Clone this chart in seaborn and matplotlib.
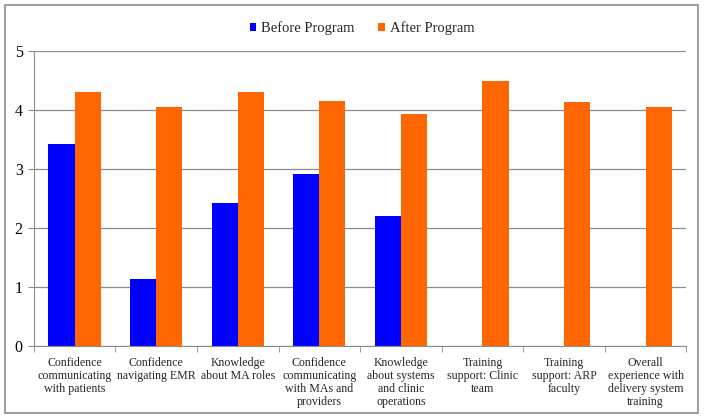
import numpy as np
import pandas as pd
import seaborn as sns
import matplotlib.pyplot as plt
from matplotlib.patches import Rectangle

# data
categories = [
    "Confidence\ncommunicating\nwith patients",
    "Confidence\nnavigating EMR",
    "Knowledge\nabout MA roles",
    "Confidence\ncommunicating\nwith MAs and\nproviders",
    "Knowledge\nabout systems\nand clinic\noperations",
    "Training\nsupport: Clinic\nteam",
    "Training\nsupport: ARP\nfaculty",
    "Overall\nexperience with\ndelivery system\ntraining",
]
before = [3.43, 1.13, 2.43, 2.92, 2.20, np.nan, np.nan, np.nan]
after = [4.30, 4.05, 4.30, 4.16, 3.93, 4.50, 4.13, 4.05]
series = ["Before Program", "After Program"]
yticks = [0, 1, 2, 3, 4, 5]

df = pd.DataFrame({"category": categories, series[0]: before, series[1]: after})
df_long = df.melt(id_vars="category", var_name="Series", value_name="Value")

sns.set_style("white")
plt.rcParams["font.family"] = ["Liberation Serif", "DejaVu Serif"]

fig, ax = plt.subplots(figsize=(7.04, 4.18), dpi=100)
fig.subplots_adjust(left=0.048, right=0.975, top=0.878, bottom=0.172)

palette = {"Before Program": "#0000ff", "After Program": "#ff6600"}
sns.barplot(data=df_long, x="category", y="Value", hue="Series",
            palette=palette, width=0.64, gap=0, saturation=1,
            ax=ax, linewidth=0)

ax.set_ylim(0, 5)
ax.set_xlim(-0.5, len(categories) - 0.5)
ax.set_yticks(yticks)
ax.yaxis.grid(True, color="#8c8c8c", linewidth=0.9)
ax.set_axisbelow(True)
for s in ["top", "right"]:
    ax.spines[s].set_visible(False)
ax.spines["left"].set_color("#8c8c8c")
ax.spines["bottom"].set_color("#8c8c8c")

ax.set_xlabel("")
ax.set_ylabel("")
ax.tick_params(axis="y", labelsize=11.5, colors="#000000", left=True, length=4,
               color="#8c8c8c", pad=4)
ax.tick_params(axis="x", labelsize=8.6, bottom=False, pad=4)
ax.set_xticks(np.arange(-0.5, len(categories)), minor=True)
ax.tick_params(axis="x", which="minor", bottom=True, length=4, color="#8c8c8c")
for lbl in ax.get_xticklabels():
    lbl.set_linespacing(1.12)

leg = ax.legend(loc="upper center", bbox_to_anchor=(0.503, 1.145), ncol=2,
                frameon=False, fontsize=10.5, handlelength=0.45, handleheight=0.45,
                handletextpad=0.35, columnspacing=1.6)

# outer frame
fig.patches.append(Rectangle((0.007, 0.012), 0.985, 0.976, transform=fig.transFigure,
                             fill=False, edgecolor="#8c8c8c", linewidth=1.2))

fig.savefig("out.png", dpi=100)
